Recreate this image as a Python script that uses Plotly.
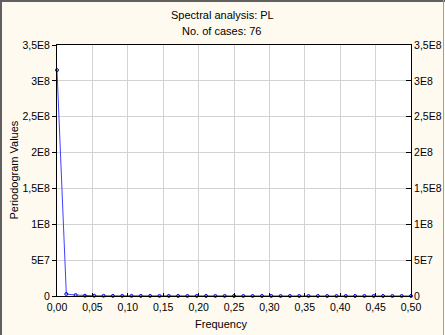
import plotly.graph_objects as go

# Data
frequency = [k / 76 for k in range(39)]
periodogram = [3.15e8, 2.8e6, 1.3e6, 4.0e5, 3.0e5, 2.5e5, 2.0e5, 1.8e5, 1.5e5, 1.4e5,
               1.2e5, 1.1e5, 1.0e5, 9.0e4, 8.5e4, 8.0e4, 7.5e4, 7.0e4, 6.5e4, 6.0e4,
               5.8e4, 5.5e4, 5.2e4, 5.0e4, 4.8e4, 4.6e4, 4.4e4, 4.2e4, 4.0e4, 3.9e4,
               3.8e4, 3.7e4, 3.6e4, 3.5e4, 3.4e4, 3.3e4, 3.2e4, 3.1e4, 3.0e4]

x_ticks = [0, 0.05, 0.10, 0.15, 0.20, 0.25, 0.30, 0.35, 0.40, 0.45, 0.50]
x_labels = ["0,00", "0,05", "0,10", "0,15", "0,20", "0,25", "0,30", "0,35", "0,40", "0,45", "0,50"]
y_ticks = [0, 5e7, 1e8, 1.5e8, 2e8, 2.5e8, 3e8, 3.5e8]
y_labels = ["0", "5E7", "1E8", "1,5E8", "2E8", "2,5E8", "3E8", "3,5E8"]

FONT = "Liberation Sans, Arial, sans-serif"
BG = "#FFFAF0"
W, H = 354, 251  # plot area size in px
TF = dict(family=FONT, size=10.5, color="black")

fig = go.Figure()
fig.add_trace(go.Scatter(
    x=frequency, y=periodogram, mode="lines+markers",
    line=dict(color="#4040FF", width=1),
    marker=dict(symbol="circle-open", size=3, color="#0000E0", line=dict(width=1, color="#0000E0")),
    showlegend=False, cliponaxis=False,
))
fig.add_trace(go.Scatter(x=[0], y=[0], yaxis="y2", mode="markers",
                         marker=dict(opacity=0), showlegend=False, hoverinfo="skip"))

base = dict(showline=True, linecolor="black", linewidth=1, tickcolor="black",
            tickfont=TF, zeroline=False, automargin=False)

def ann(text, x, y, **kw):
    return dict(text=text, x=x, y=y, xref="paper", yref="paper", showarrow=False,
                font=dict(family=FONT, size=11, color="black"), **kw)

fig.update_layout(
    width=445, height=335,
    margin=dict(l=57, r=34, t=45, b=39),
    paper_bgcolor=BG, plot_bgcolor="white",
    font=dict(family=FONT, size=11, color="black"),
    xaxis=dict(range=[0, 0.5], tickvals=x_ticks, ticktext=x_labels, mirror=True,
               ticks="inside", ticklen=3, ticklabelstandoff=1,
               showgrid=True, gridcolor="#D3D3D3", gridwidth=1, **base),
    yaxis=dict(range=[0, 3.5e8], tickvals=y_ticks, ticktext=y_labels,
               ticks="outside", ticklen=4, ticklabelstandoff=0,
               showgrid=True, gridcolor="#D3D3D3", gridwidth=1, **base),
    yaxis2=dict(range=[0, 3.5e8], tickvals=y_ticks, ticktext=y_labels, overlaying="y",
                side="right", ticks="inside", ticklen=5, ticklabelstandoff=0,
                showgrid=False, **base),
    annotations=[
        ann("Spectral analysis: PL", (222 - 57) / W, 1 + (45 - 15) / H, xanchor="center", yanchor="middle"),
        ann("No. of cases: 76", (222 - 57) / W, 1 + (45 - 31) / H, xanchor="center", yanchor="middle"),
        ann("Frequency", (221 - 57) / W, -(324 - 296) / H, xanchor="center", yanchor="middle"),
        ann("Periodogram Values", -(57 - 13) / W, 0.5, xanchor="center",
            yanchor="middle", textangle=-90),
    ],
    shapes=[
        dict(type="line", xref="paper", yref="paper", x0=-56 / W, x1=-56 / W,
             y0=-39 / H, y1=1 + 45 / H, line=dict(color="#606060", width=2)),
        dict(type="line", xref="paper", yref="paper", x0=-57 / W, x1=1 + 34 / W,
             y0=1 + 44 / H, y1=1 + 44 / H, line=dict(color="#606060", width=2)),
        dict(type="line", xref="paper", yref="paper", x0=1 + 32.5 / W, x1=1 + 32.5 / W,
             y0=-39 / H, y1=1 + 45 / H, line=dict(color="#A0A0A0", width=1)),
    ],
)

fig.write_html("out.html")
